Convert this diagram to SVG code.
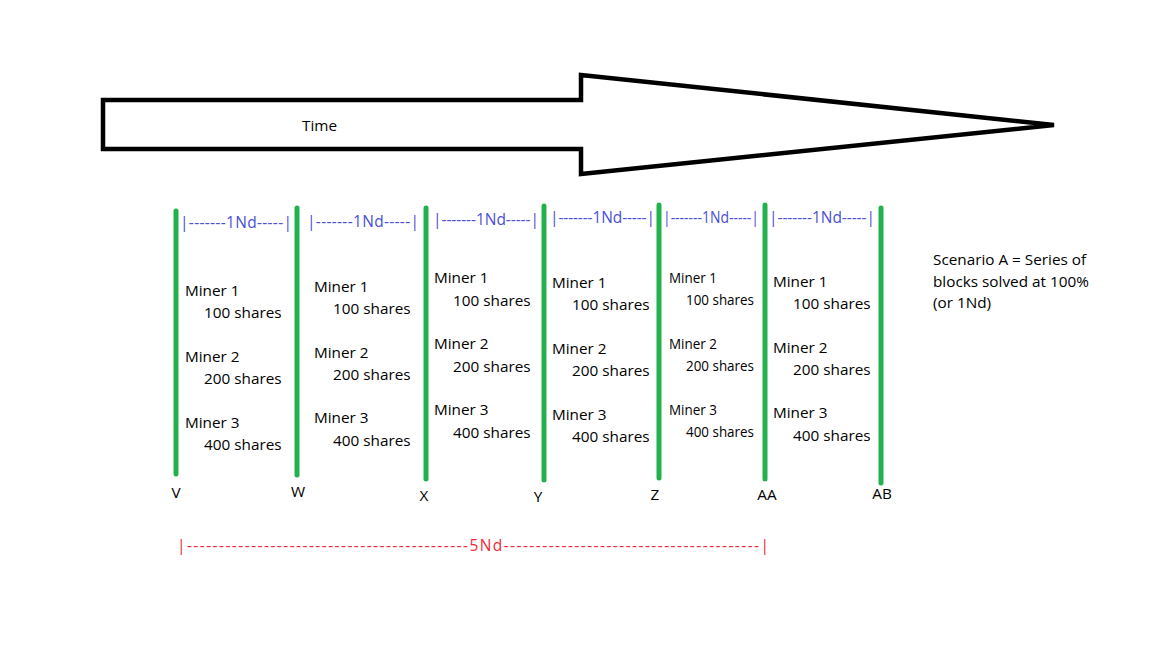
<svg xmlns="http://www.w3.org/2000/svg" width="1152" height="648" viewBox="0 0 1152 648">
<style>
text{font-family:"Open Sans","Noto Sans",sans-serif;font-size:15.3px;fill:#000}
.nd{fill:#4a50d8;font-size:15.5px}
.red{fill:#ee2a3a;font-size:15.5px}
.sm{font-size:14px}
.bar{stroke:#22b14c;stroke-width:5;stroke-linecap:round;fill:none}
.arrow{fill:#fff;stroke:#000;stroke-width:4.5}
</style>
<rect width="1152" height="648" fill="#fff"/>
<g id="time-arrow">
<polygon class="arrow" points="103,100 581,100 581,75 1054,125 581,174 581,149 103,149"/>
<text x="302" y="131">Time</text>
</g>
<g id="connectors">
<line class="bar" x1="176" y1="211" x2="176" y2="474"/>
<line class="bar" x1="297" y1="208" x2="297" y2="475"/>
<line class="bar" x1="426" y1="208" x2="426" y2="479"/>
<line class="bar" x1="544" y1="206" x2="544" y2="480"/>
<line class="bar" x1="659" y1="205" x2="659" y2="478"/>
<line class="bar" x1="765" y1="205" x2="765" y2="479"/>
<line class="bar" x1="881" y1="208" x2="881" y2="483"/>
</g>
<g id="block-labels">
<text x="176" y="498" text-anchor="middle">V</text>
<text x="298" y="497" text-anchor="middle">W</text>
<text x="424" y="501" text-anchor="middle">X</text>
<text x="538" y="502" text-anchor="middle">Y</text>
<text x="655" y="500" text-anchor="middle">Z</text>
<text x="767" y="500" text-anchor="middle">AA</text>
<text x="882" y="499" text-anchor="middle">AB</text>
</g>
<g id="block-V-W">
<text class="nd" x="180" y="228" textLength="112" lengthAdjust="spacing">|-------1Nd-----|</text>
<text x="185" y="296">Miner 1</text>
<text x="204" y="318">100 shares</text>
<text x="185" y="362">Miner 2</text>
<text x="204" y="384">200 shares</text>
<text x="185" y="428">Miner 3</text>
<text x="204" y="450">400 shares</text>
</g>
<g id="block-W-X">
<text class="nd" x="307" y="227" textLength="112" lengthAdjust="spacing">|-------1Nd-----|</text>
<text x="314" y="292">Miner 1</text>
<text x="333" y="314">100 shares</text>
<text x="314" y="358">Miner 2</text>
<text x="333" y="380">200 shares</text>
<text x="314" y="423">Miner 3</text>
<text x="333" y="446">400 shares</text>
</g>
<g id="block-X-Y">
<text class="nd" x="433" y="225" textLength="106" lengthAdjust="spacing">|-------1Nd-----|</text>
<text x="434" y="283">Miner 1</text>
<text x="453" y="306">100 shares</text>
<text x="434" y="349">Miner 2</text>
<text x="453" y="372">200 shares</text>
<text x="434" y="415">Miner 3</text>
<text x="453" y="438">400 shares</text>
</g>
<g id="block-Y-Z">
<text class="nd" x="550" y="223" textLength="105" lengthAdjust="spacing">|-------1Nd-----|</text>
<text x="552" y="288">Miner 1</text>
<text x="572" y="310">100 shares</text>
<text x="552" y="354">Miner 2</text>
<text x="572" y="376">200 shares</text>
<text x="552" y="420">Miner 3</text>
<text x="572" y="442">400 shares</text>
</g>
<g id="block-Z-AA">
<text class="nd" x="663" y="223" textLength="96" lengthAdjust="spacingAndGlyphs">|-------1Nd-----|</text>
<text class="sm" x="669" y="283" textLength="48" lengthAdjust="spacingAndGlyphs">Miner 1</text>
<text class="sm" x="686" y="305" textLength="68" lengthAdjust="spacingAndGlyphs">100 shares</text>
<text class="sm" x="669" y="349" textLength="48" lengthAdjust="spacingAndGlyphs">Miner 2</text>
<text class="sm" x="686" y="371" textLength="68" lengthAdjust="spacingAndGlyphs">200 shares</text>
<text class="sm" x="669" y="415" textLength="48" lengthAdjust="spacingAndGlyphs">Miner 3</text>
<text class="sm" x="686" y="437" textLength="68" lengthAdjust="spacingAndGlyphs">400 shares</text>
</g>
<g id="block-AA-AB">
<text class="nd" x="769" y="223" textLength="106" lengthAdjust="spacing">|-------1Nd-----|</text>
<text x="773" y="287">Miner 1</text>
<text x="793" y="309">100 shares</text>
<text x="773" y="353">Miner 2</text>
<text x="793" y="375">200 shares</text>
<text x="773" y="418">Miner 3</text>
<text x="793" y="441">400 shares</text>
</g>
<g id="span-5Nd">
<text class="red" x="177" y="551" textLength="592" lengthAdjust="spacing">|--------------------------------------------5Nd----------------------------------------|</text>
</g>
<g id="scenario-note">
<text x="933" y="265">Scenario A = Series of</text>
<text x="933" y="287">blocks solved at 100%</text>
<text x="933" y="308">(or 1Nd)</text>
</g>
</svg>
